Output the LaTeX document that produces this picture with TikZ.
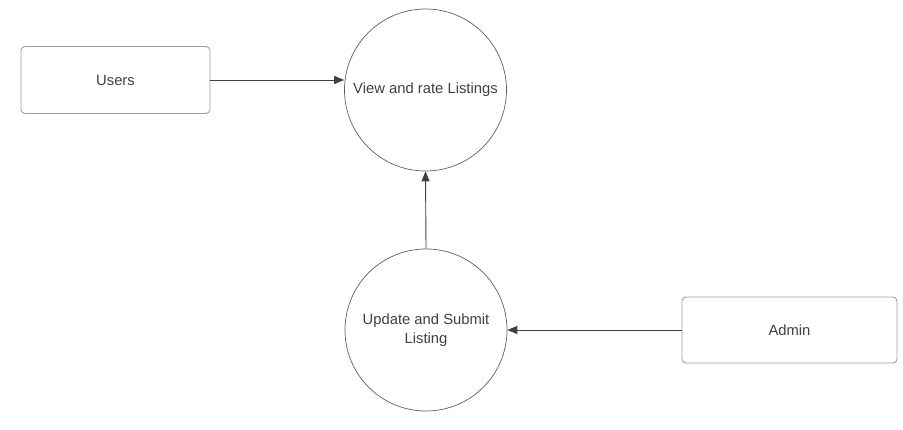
\documentclass[tikz,border=0pt]{standalone}
\usepackage{fontspec}
\setmainfont{Liberation Sans}
\usetikzlibrary{arrows.meta}
\definecolor{txt}{HTML}{3A414A}
\definecolor{edge}{HTML}{5E5E5E}
\definecolor{boxline}{HTML}{9A9EA5}
\begin{document}
\begin{tikzpicture}[x=1pt,y=-1pt,
  font=\fontsize{14.8}{19}\selectfont, text=txt,
  entity/.style={draw=boxline, line width=0.9pt, rounded corners=4pt, minimum width=189pt, minimum height=67pt, inner sep=0pt},
  proc/.style={draw=edge, line width=0.7pt, circle, minimum size=162pt, inner sep=0pt, align=center},
  flow/.style={draw=txt, line width=0.9pt, -{Triangle[length=10pt,width=8pt]}}]
\useasboundingbox (0,0) rectangle (903,430);
\node[entity] (users) at (115.5,80) {Users};
\node[entity, minimum width=215pt, minimum height=66pt] (admin) at (789.5,330) {Admin};
\node[proc] (view) at (425.5,90) {View and rate Listings};
\node[proc] (update) at (426,330) {Update and Submit\\Listing};
\draw[flow] (users.east |- 0,80) -- (view.west |- 0,80);
\draw[flow] (update.north) -- (view.south);
\draw[flow] (admin.west) -- (update.east);
\end{tikzpicture}
\end{document}
